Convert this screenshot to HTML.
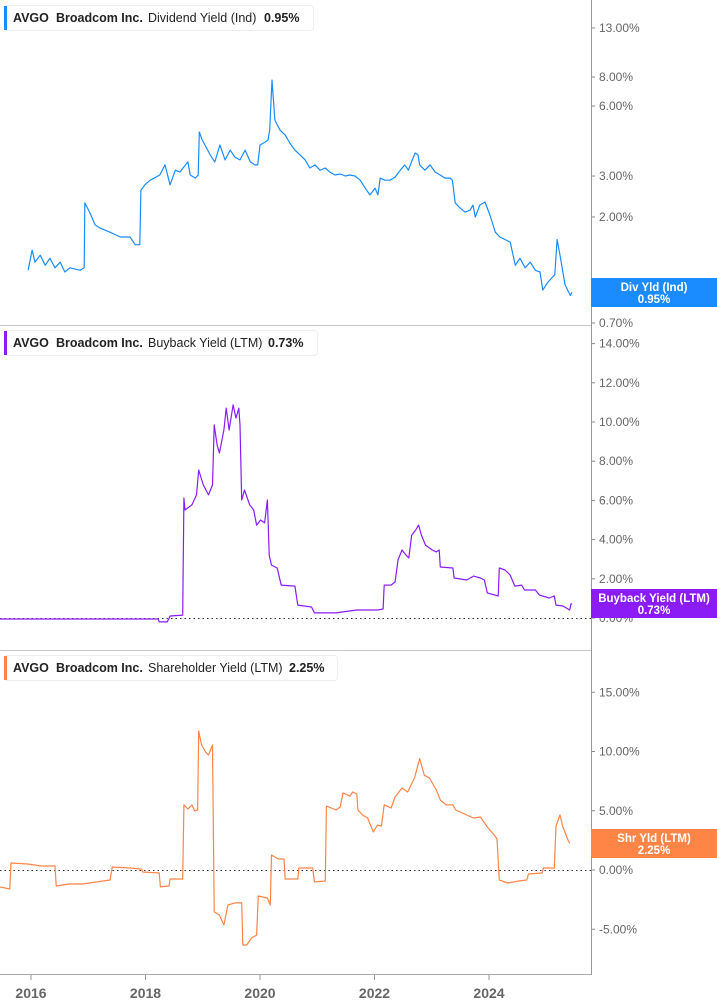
<!DOCTYPE html>
<html><head><meta charset="utf-8"><style>
body{margin:0;background:#fff;font-family:"Liberation Sans",sans-serif}
svg{display:block}
.tk{font-size:12px;fill:#666}
.yr{font-size:14px;font-weight:bold;fill:#666}
.lg{font-size:12.5px;font-weight:bold;fill:#222}
.lgn{font-size:12.5px;fill:#222}
.bl{font-size:11.5px;font-weight:bold;fill:#fff}
</style></head><body>
<svg id="c" width="717" height="1005" viewBox="0 0 717 1005">
<rect width="717" height="1005" fill="#fff"/>
<line x1="0" y1="325.5" x2="591" y2="325.5" stroke="#c8c8c8"/>
<line x1="0" y1="650.5" x2="591" y2="650.5" stroke="#c8c8c8"/>
<line x1="0" y1="974.5" x2="591" y2="974.5" stroke="#aaa"/>
<line x1="591.5" y1="0" x2="591.5" y2="975" stroke="#999"/>
<line x1="0" y1="618.5" x2="591" y2="618.5" stroke="#333" stroke-dasharray="1.5,3"/>
<line x1="0" y1="870.5" x2="591" y2="870.5" stroke="#333" stroke-dasharray="1.5,3"/>
<g id="axes"></g>
<g id="series"></g>
<g>
<rect x="4.5" y="5.5" width="309" height="25" rx="3" fill="#fff" stroke="#eee"/>
<rect x="4" y="6" width="3" height="24" fill="#1a8cff"/>
<text x="13" y="22" class="lg">AVGO</text><text x="56" y="22" class="lg">Broadcom Inc.</text>
<text x="148" y="22" class="lgn">Dividend Yield (Ind)</text><text x="264" y="22" class="lg">0.95%</text>
</g>
<g>
<rect x="4.5" y="330.5" width="313" height="25" rx="3" fill="#fff" stroke="#eee"/>
<rect x="4" y="331" width="3" height="24" fill="#8b1cf5"/>
<text x="13" y="347" class="lg">AVGO</text><text x="56" y="347" class="lg">Broadcom Inc.</text>
<text x="148" y="347" class="lgn">Buyback Yield (LTM)</text><text x="268" y="347" class="lg">0.73%</text>
</g>
<g>
<rect x="4.5" y="655.5" width="333" height="25" rx="3" fill="#fff" stroke="#eee"/>
<rect x="4" y="656" width="3" height="24" fill="#ff8547"/>
<text x="13" y="672" class="lg">AVGO</text><text x="56" y="672" class="lg">Broadcom Inc.</text>
<text x="148" y="672" class="lgn">Shareholder Yield (LTM)</text><text x="289" y="672" class="lg">2.25%</text>
</g>
<g>
<rect x="591" y="278" width="126" height="29" fill="#1a8cff"/>
<text x="654" y="291" text-anchor="middle" class="bl">Div Yld (Ind)</text><text x="654" y="303" text-anchor="middle" class="bl">0.95%</text>
</g>
<g>
<rect x="591" y="589" width="126" height="29" fill="#8b1cf5"/>
<text x="654" y="602" text-anchor="middle" class="bl">Buyback Yield (LTM)</text><text x="654" y="614" text-anchor="middle" class="bl">0.73%</text>
</g>
<g>
<rect x="591" y="829" width="126" height="29" fill="#ff8547"/>
<text x="654" y="842" text-anchor="middle" class="bl">Shr Yld (LTM)</text><text x="654" y="854" text-anchor="middle" class="bl">2.25%</text>
</g>
</svg>
<script>
const NS='http://www.w3.org/2000/svg';
const divYears=[2015.95,2016.02,2016.07,2016.16,2016.25,2016.33,2016.42,2016.51,2016.59,2016.68,2016.86,2016.93,2016.94,2017.03,2017.12,2017.21,2017.38,2017.56,2017.73,2017.82,2017.9,2017.92,2017.99,2018.08,2018.25,2018.34,2018.43,2018.52,2018.6,2018.74,2018.78,2018.87,2018.92,2018.94,2018.99,2019.13,2019.21,2019.3,2019.39,2019.48,2019.56,2019.65,2019.74,2019.83,2019.91,2019.96,2020.0,2020.09,2020.14,2020.17,2020.21,2020.26,2020.35,2020.44,2020.52,2020.61,2020.7,2020.79,2020.87,2020.96,2021.05,2021.14,2021.22,2021.31,2021.4,2021.49,2021.57,2021.66,2021.75,2021.84,2021.92,2022.01,2022.06,2022.1,2022.18,2022.27,2022.36,2022.45,2022.53,2022.59,2022.66,2022.71,2022.76,2022.79,2022.88,2022.97,2023.06,2023.15,2023.23,2023.32,2023.36,2023.41,2023.49,2023.58,2023.67,2023.72,2023.76,2023.84,2023.93,2024.02,2024.11,2024.19,2024.28,2024.37,2024.46,2024.54,2024.63,2024.72,2024.81,2024.89,2024.94,2025.03,2025.15,2025.19,2025.24,2025.33,2025.42,2025.45];
const divValues=[1.18,1.44,1.28,1.37,1.24,1.33,1.21,1.28,1.16,1.21,1.18,1.21,2.30,2.08,1.85,1.79,1.72,1.64,1.64,1.52,1.52,2.61,2.75,2.88,3.03,3.35,2.75,3.18,3.12,3.45,3.03,2.94,3.03,4.64,4.29,3.70,3.45,4.08,3.52,3.88,3.62,3.52,3.88,3.45,3.35,3.35,4.08,4.20,4.29,4.73,7.76,5.22,4.73,4.50,4.16,3.88,3.70,3.52,3.25,3.35,3.18,3.25,3.12,3.03,3.06,3.00,3.03,3.00,2.88,2.66,2.49,2.66,2.49,2.94,2.88,2.88,2.97,3.18,3.35,3.18,3.52,3.77,3.70,3.35,3.18,3.35,3.12,3.03,2.94,2.94,2.88,2.30,2.19,2.10,2.14,2.25,2.00,2.25,2.32,2.03,1.72,1.64,1.60,1.56,1.24,1.33,1.21,1.28,1.18,1.16,0.97,1.05,1.13,1.60,1.37,1.02,0.92,0.95];
const bbYears=[2015.46,2018.22,2018.24,2018.38,2018.43,2018.65,2018.67,2018.69,2018.81,2018.89,2018.93,2019.01,2019.1,2019.17,2019.2,2019.25,2019.29,2019.37,2019.41,2019.46,2019.53,2019.58,2019.63,2019.65,2019.68,2019.73,2019.82,2019.89,2019.94,2020.01,2020.08,2020.13,2020.16,2020.2,2020.3,2020.37,2020.61,2020.66,2020.9,2020.95,2021.33,2021.45,2021.69,2022.05,2022.15,2022.17,2022.29,2022.36,2022.41,2022.48,2022.55,2022.6,2022.65,2022.72,2022.77,2022.82,2022.89,2023.01,2023.08,2023.13,2023.15,2023.37,2023.39,2023.61,2023.73,2023.85,2023.92,2023.97,2024.16,2024.18,2024.28,2024.37,2024.45,2024.57,2024.62,2024.81,2024.88,2025.05,2025.14,2025.17,2025.29,2025.41,2025.43,2025.45];
const bbValues=[-0.05,-0.05,-0.2,-0.2,0.1,0.15,6.12,5.51,5.77,6.28,7.55,6.79,6.28,6.79,9.85,8.83,8.42,9.59,10.71,9.59,10.87,10.2,10.71,9.85,6.02,6.53,5.77,5.51,4.74,5.0,4.85,6.02,3.21,2.7,2.55,1.68,1.63,0.66,0.56,0.26,0.26,0.31,0.41,0.41,0.46,1.68,1.68,1.84,2.96,3.47,3.21,3.06,4.23,4.49,4.74,4.23,3.72,3.47,3.37,3.47,2.6,2.55,2.04,1.94,2.14,2.04,1.94,1.28,1.12,2.55,2.45,2.19,1.63,1.68,1.43,1.43,1.17,1.02,1.12,0.66,0.61,0.41,0.71,0.73];
const shYears=[2015.46,2015.63,2015.65,2015.94,2016.18,2016.42,2016.44,2016.66,2016.9,2017.14,2017.38,2017.42,2017.74,2017.93,2017.95,2018.24,2018.26,2018.41,2018.43,2018.65,2018.67,2018.74,2018.81,2018.86,2018.91,2018.93,2018.98,2019.05,2019.1,2019.17,2019.2,2019.29,2019.37,2019.44,2019.56,2019.68,2019.7,2019.77,2019.85,2019.94,2019.97,2020.13,2020.18,2020.2,2020.32,2020.42,2020.44,2020.66,2020.68,2020.92,2020.95,2021.14,2021.16,2021.33,2021.4,2021.45,2021.57,2021.62,2021.69,2021.71,2021.79,2021.88,2021.98,2022.05,2022.12,2022.17,2022.29,2022.36,2022.48,2022.58,2022.7,2022.79,2022.87,2022.96,2023.08,2023.15,2023.25,2023.37,2023.42,2023.61,2023.73,2023.85,2023.97,2024.09,2024.14,2024.18,2024.33,2024.52,2024.66,2024.69,2024.93,2024.95,2025.14,2025.17,2025.24,2025.29,2025.38,2025.41];
const shValues=[-1.43,-1.6,0.59,0.51,0.34,0.34,-1.35,-1.18,-1.18,-1.01,-0.84,0.25,0.17,0.08,-0.17,-0.25,-1.43,-1.35,-0.76,-0.76,5.49,5.15,5.49,4.98,5.06,11.73,10.55,9.96,9.7,10.55,-3.54,-3.8,-4.64,-2.95,-2.78,-2.78,-6.33,-6.33,-5.74,-5.49,-2.19,-2.36,-2.95,1.27,0.93,0.93,-0.76,-0.76,0.17,0.17,-1.01,-0.93,5.4,5.06,5.32,6.5,6.24,6.58,6.41,5.06,4.64,4.39,3.21,3.8,3.71,5.49,5.23,6.16,6.92,6.58,7.8,9.4,8.0,7.76,6.75,5.91,5.49,5.49,5.06,4.64,4.39,4.47,3.63,2.95,2.62,-0.84,-1.1,-0.93,-0.84,-0.34,-0.25,0.17,0.17,3.71,4.64,3.63,2.53,2.25];
const divTicks=[13,8,6,3,2,1,0.7];
const divTickLabels=['13.00%','8.00%','6.00%','3.00%','2.00%','1.00%','0.70%'];
const bbTicks=[14,12,10,8,6,4,2,0];
const bbTickLabels=['14.00%','12.00%','10.00%','8.00%','6.00%','4.00%','2.00%','0.00%'];
const shTicks=[15,10,5,0,-5];
const shTickLabels=['15.00%','10.00%','5.00%','0.00%','-5.00%'];
const yearTicks=[2016,2018,2020,2022,2024];
const yearTickLabels=['2016','2018','2020','2022','2024'];

const X=t=>31+(t-2016)*57.25;
const Ydiv=v=>217-101*Math.log(v/2);
const Ybb=v=>618-19.6*v;
const Ysh=v=>870-11.85*v;
const axes=document.getElementById('axes'),series=document.getElementById('series');
function tick(g,y,label,name){
  const l=document.createElementNS(NS,'line');
  l.setAttribute('x1',592);l.setAttribute('x2',595);l.setAttribute('y1',y);l.setAttribute('y2',y);l.setAttribute('stroke','#888');
  
  
  g.appendChild(l);
  const t=document.createElementNS(NS,'text');
  t.setAttribute('x',599);t.setAttribute('y',y+4);t.setAttribute('class','tk');t.textContent=label;
  
  
  g.appendChild(t);
}
divTicks.forEach((v,i)=>tick(axes,Ydiv(v),divTickLabels[i],'dividend-y-tick'));
bbTicks.forEach((v,i)=>tick(axes,Ybb(v),bbTickLabels[i],'buyback-y-tick'));
shTicks.forEach((v,i)=>tick(axes,Ysh(v),shTickLabels[i],'shareholder-y-tick'));
yearTicks.forEach((yr,i)=>{
  const x=X(yr);
  const l=document.createElementNS(NS,'line');
  l.setAttribute('x1',x);l.setAttribute('x2',x);l.setAttribute('y1',975);l.setAttribute('y2',980);l.setAttribute('stroke','#999');
  
  
  axes.appendChild(l);
  const t=document.createElementNS(NS,'text');
  t.setAttribute('x',x);t.setAttribute('y',998);t.setAttribute('text-anchor','middle');t.setAttribute('class','yr');t.textContent=yearTickLabels[i];
  
  
  axes.appendChild(t);
});
function line(xs,vs,Y,color,name){
  const p=document.createElementNS(NS,'path');
  p.setAttribute('d',xs.map((t,i)=>(i?'L':'M')+X(t).toFixed(1)+','+Y(vs[i]).toFixed(1)).join(''));
  p.setAttribute('fill','none');p.setAttribute('stroke',color);p.setAttribute('stroke-width','1.2');p.setAttribute('stroke-linejoin','round');
  
  
  series.appendChild(p);
}
line(divYears,divValues,Ydiv,'#1a8cff','dividend-yield-line');
line(bbYears,bbValues,Ybb,'#8b1cf5','buyback-yield-line');
line(shYears,shValues,Ysh,'#ff8547','shareholder-yield-line');
</script>
</body></html>
